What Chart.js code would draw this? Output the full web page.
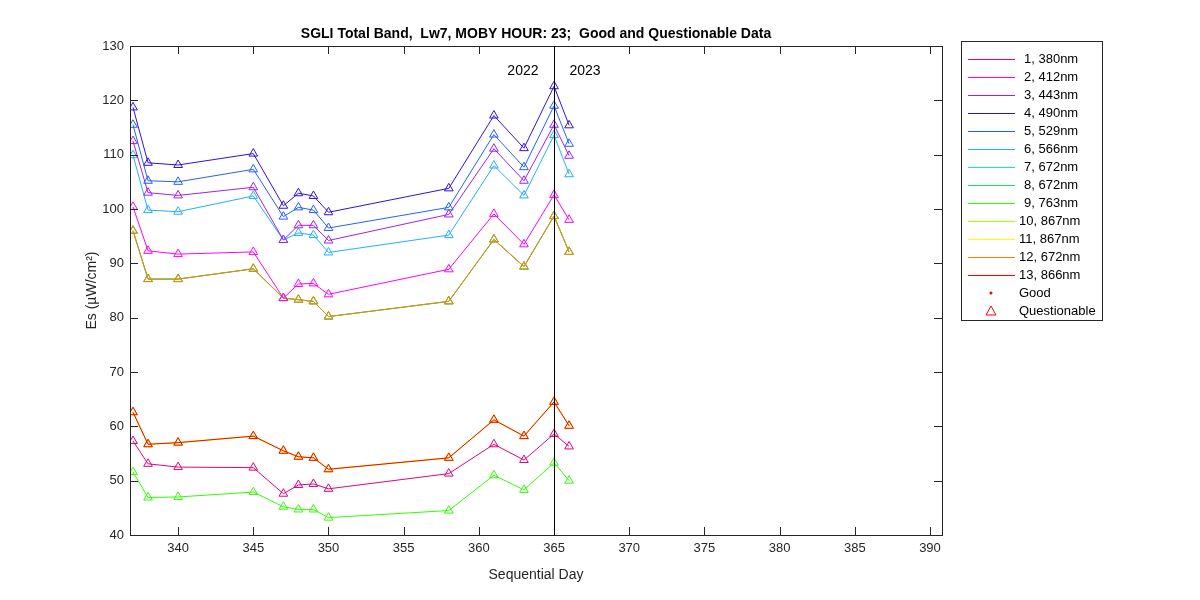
<!DOCTYPE html>
<html><head><meta charset="utf-8">
<script src="https://cdn.jsdelivr.net/npm/chart.js@4"></script>
<style>body{margin:0;background:#fff}#w{width:1200px;height:600px}</style>
</head><body><div id="w"><canvas id="c"></canvas></div>
<script>
const days = [337,338,340,345,347,348,349,350,358,361,363,365,366];
const bandNames = ['1, 380nm','2, 412nm','3, 443nm','4, 490nm','5, 529nm','6, 566nm','7, 672nm','8, 672nm','9, 763nm','10, 867nm','11, 867nm','12, 672nm','13, 866nm'];
const bandColors = ['#e6007a','#ff00ff','#a020f0','#3010e0','#2060ff','#20b0ff','#20e0c0','#20e060','#30ff00','#a0ff00','#ffff00','#ff8000','#ff0000'];
const b1 = [57.3,53.1,52.5,52.4,47.6,49.2,49.4,48.5,51.3,56.7,53.8,58.6,56.3];
const b2 = [100.4,92.3,91.7,92.1,83.6,86.2,86.3,84.3,88.9,99.1,93.5,102.6,98.0];
const b3 = [112.5,103.0,102.5,104.0,94.3,97.0,97.0,94.2,99.0,111.1,105.2,115.5,109.8];
const b4 = [118.7,108.5,108.1,110.2,100.6,102.9,102.4,99.4,103.8,117.2,111.2,122.6,115.4];
const b5 = [115.5,105.2,105.0,107.3,98.6,100.3,99.8,96.5,100.3,113.7,107.7,119.0,112.0];
const b6 = [109.9,99.8,99.5,102.4,94.3,95.6,95.2,92.0,95.2,108.0,102.5,113.6,106.4];
const b7 = [96.0,87.1,87.1,89.0,83.6,83.3,83.0,80.2,83.0,94.4,89.4,98.7,92.1];
const b8 = [96.0,87.1,87.1,89.0,83.6,83.3,83.0,80.2,83.0,94.4,89.4,98.7,92.1];
const b9 = [51.6,46.9,47.0,47.9,45.2,44.7,44.7,43.2,44.5,51.0,48.3,53.3,50.0];
const b10 = [62.6,56.7,57.0,58.2,55.5,54.4,54.2,52.1,54.2,61.2,58.2,64.5,60.1];
const b11 = [62.6,56.7,57.0,58.2,55.5,54.4,54.2,52.1,54.2,61.2,58.2,64.5,60.1];
const b12 = [96.0,87.1,87.1,89.0,83.6,83.3,83.0,80.2,83.0,94.4,89.4,98.7,92.1];
const b13 = [62.6,56.7,57.0,58.2,55.5,54.4,54.2,52.1,54.2,61.2,58.2,64.5,60.1];
const series = [b1,b2,b3,b4,b5,b6,b7,b8,b9,b10,b11,b12,b13];
const xTicks = [340,345,350,355,360,365,370,375,380,385,390];
const yTicks = [40,50,60,70,80,90,100,110,120,130];
const yearDay = 365, yearLabels = ['2022','2023'];

// first dataset is drawn on top
const drawOrder = [3,4,2,5,12,1,11,0,10,9,8,7,6];
const datasets = drawOrder.map(i => ({
  label: bandNames[i],
  data: days.map((d,k)=>({x:d,y:series[i][k]})),
  borderColor: bandColors[i], backgroundColor:'rgba(0,0,0,0)',
  pointBorderColor: bandColors[i], pointBackgroundColor:'rgba(0,0,0,0)',
  pointStyle:'triangle', pointRadius:5, pointBorderWidth:1, borderWidth:1, tension:0
}));
const font = 'Helvetica, Arial, "Liberation Sans", sans-serif';
const deco = {
  id:'deco',
  afterDraw(ch){
    const c=ch.ctx, a=ch.chartArea, xs=ch.scales.x, ys=ch.scales.y;
    c.save();
    c.strokeStyle='#262626'; c.lineWidth=1;
    c.strokeRect(a.left+0.5,a.top+0.5,a.right-a.left,a.bottom-a.top);
    c.beginPath();
    xTicks.forEach(t=>{const x=Math.round(xs.getPixelForValue(t))+0.5;c.moveTo(x,a.bottom);c.lineTo(x,a.bottom-8);c.moveTo(x,a.top);c.lineTo(x,a.top+8);});
    yTicks.forEach(t=>{const y=Math.round(ys.getPixelForValue(t))+0.5;c.moveTo(a.left,y);c.lineTo(a.left+8,y);c.moveTo(a.right,y);c.lineTo(a.right-8,y);});
    c.stroke();
    const vx=Math.round(xs.getPixelForValue(yearDay))+0.5;
    c.strokeStyle='#000'; c.beginPath(); c.moveTo(vx,a.top); c.lineTo(vx,a.bottom); c.stroke();
    c.fillStyle='#000'; c.font='14px '+font; c.textBaseline='middle';
    c.textAlign='right'; c.fillText(yearLabels[0],vx-16,71);
    c.textAlign='left'; c.fillText(yearLabels[1],vx+15,71);
    c.font='bold 14px '+font; c.textAlign='center';
    c.fillText('SGLI Total Band,  Lw7, MOBY HOUR: 23;  Good and Questionable Data',(a.left+a.right)/2,34);
    c.fillStyle='#262626'; c.font='14px '+font;
    c.fillText('Sequential Day',(a.left+a.right)/2,575);
    c.save(); c.translate(92,(a.top+a.bottom)/2); c.rotate(-Math.PI/2); c.fillText('Es (µW/cm²)',0,0); c.restore();
    // legend
    const lx=961, ly=41, lw=141, lh=279;
    c.fillStyle='#fff'; c.fillRect(lx,ly,lw,lh);
    c.strokeStyle='#262626'; c.strokeRect(lx+0.5,ly+0.5,lw,lh);
    c.font='13px '+font; c.textAlign='left';
    for(let i=0;i<13;i++){
      const y=ly+18+i*18;
      c.fillStyle=bandColors[i]; c.fillRect(lx+7,y,47,1);
      c.fillStyle='#000'; c.fillText(bandNames[i],lx+(i<9?63:58),y);
    }
    let y=ly+18+13*18;
    c.fillStyle='#ff0000'; c.beginPath(); c.arc(lx+30,y,1.5,0,7); c.fill();
    c.fillStyle='#000'; c.fillText('Good',lx+58,y);
    y+=18;
    c.strokeStyle='#ff0000'; c.beginPath(); c.moveTo(lx+30,y-5); c.lineTo(lx+35,y+4); c.lineTo(lx+25,y+4); c.closePath(); c.stroke();
    c.fillStyle='#000'; c.fillText('Questionable',lx+58,y);
    c.restore();
  }
};
new Chart(document.getElementById('c'),{
  type:'line',
  data:{datasets},
  options:{
    responsive:true, maintainAspectRatio:false, animation:false,
    layout:{padding:{top:46,right:258,bottom:0,left:0}},
    plugins:{legend:{display:false},tooltip:{enabled:false}},
    scales:{
      x:{type:'linear',min:336.8,max:390.8,
        afterBuildTicks(s){s.ticks=xTicks.map(v=>({value:v}));},
        afterFit(s){s.height=65;},
        grid:{display:false,drawTicks:false}, border:{display:false},
        ticks:{color:'#262626',font:{size:13,family:font},padding:6,maxRotation:0}},
      y:{min:40,max:130,
        afterBuildTicks(s){s.ticks=yTicks.map(v=>({value:v}));},
        afterFit(s){s.width=130;},
        grid:{display:false,drawTicks:false}, border:{display:false},
        ticks:{color:'#262626',font:{size:13,family:font},padding:6}}
    }
  },
  plugins:[deco]
});
</script></body></html>
